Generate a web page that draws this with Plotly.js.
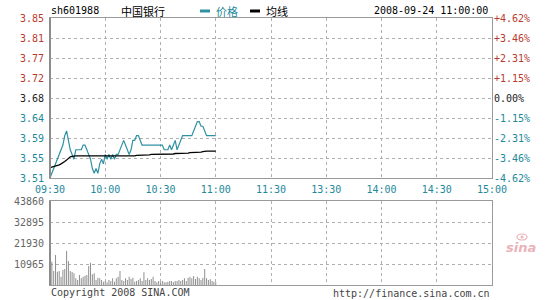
<!DOCTYPE html>
<html>
<head>
<meta charset="utf-8">
<script src="https://cdn.plot.ly/plotly-3.0.1.min.js"></script>
<style>
  html, body { margin: 0; padding: 0; background: #fff; }
  #chart { width: 545px; height: 300px; }
</style>
</head>
<body>
<div id="chart"></div>
<script>
// ---- data ----
const stockCode = 'sh601988';
const stockName = '中国银行';
const stamp = '2008-09-24 11:00:00';
const prevClose = 3.68;
const rangePct = 4.62;

// per-minute price, 09:30 .. 11:00
const price = [
  3.51, 3.52, 3.53, 3.54, 3.55, 3.56, 3.57, 3.58, 3.60, 3.61,
  3.59, 3.57, 3.56, 3.55, 3.57, 3.57, 3.57, 3.57, 3.58, 3.58,
  3.57, 3.56, 3.55, 3.53, 3.52, 3.53, 3.52, 3.54, 3.55, 3.54,
  3.56, 3.55, 3.56, 3.55, 3.56, 3.55, 3.56, 3.56, 3.57, 3.58,
  3.59, 3.58, 3.57, 3.56, 3.57, 3.59, 3.59, 3.60, 3.60, 3.59,
  3.58, 3.58, 3.58, 3.58, 3.58, 3.58, 3.58, 3.58, 3.58, 3.58,
  3.58, 3.58, 3.57, 3.57, 3.57, 3.58, 3.57, 3.58, 3.59, 3.57,
  3.58, 3.59, 3.60, 3.60, 3.60, 3.60, 3.60, 3.60, 3.61, 3.62,
  3.63, 3.63, 3.62, 3.62, 3.61, 3.60, 3.60, 3.60, 3.60, 3.60,
  3.60
];

// per-minute average price
const avgPrice = [
  3.532, 3.533, 3.534, 3.535, 3.536, 3.538, 3.540, 3.542, 3.545, 3.548,
  3.552, 3.555, 3.556, 3.557, 3.557, 3.557, 3.557, 3.557, 3.557, 3.557,
  3.557, 3.557, 3.557, 3.557, 3.556, 3.556, 3.556, 3.556, 3.556, 3.556,
  3.556, 3.556, 3.556, 3.556, 3.556, 3.556, 3.556, 3.556, 3.556, 3.556,
  3.556, 3.556, 3.556, 3.556, 3.556, 3.557, 3.557, 3.558, 3.558, 3.558,
  3.559, 3.559, 3.559, 3.559, 3.559, 3.560, 3.560, 3.560, 3.560, 3.560,
  3.560, 3.561, 3.561, 3.561, 3.561, 3.561, 3.561, 3.561, 3.562, 3.562,
  3.562, 3.562, 3.563, 3.563, 3.563, 3.563, 3.564, 3.564, 3.564, 3.564,
  3.565, 3.565, 3.565, 3.566, 3.567, 3.567, 3.567, 3.567, 3.567, 3.567,
  3.567
];

// per-minute volume, 09:31 .. 11:00
const volume = [
  12160, 7310, 15660, 6940, 7310, 4330, 7830, 8350, 17750, 12530,
  7310, 6790, 6110, 3500, 2610, 5220, 3500, 4330, 4850, 5220,
  9920, 11640, 5590, 6110, 2610, 3810, 3500, 2610, 1720, 2090,
  1410, 2610, 2090, 3500, 1720, 3500, 4330, 7310, 2610, 2090,
  3500, 2610, 4330, 3130, 3810,
  1720, 2090, 2610, 3500, 2090, 6630, 2610, 3500, 2610, 3130,
  4330, 2090, 1410, 2090, 1410, 2090, 1410, 1410, 1720, 2090,
  2090, 1410, 2090, 2090, 2610, 2090, 2610, 3500, 2090, 3810,
  4330, 3500, 4700, 3130, 4330, 3500, 2610, 3810, 8350, 3500,
  2610, 2980, 2090, 1720, 1500
];

const xTickLabels = ['09:30','10:00','10:30','11:00','11:30','13:30','14:00','14:30','15:00'];
const priceTickLabels = ['3.51','3.55','3.59','3.64','3.68','3.72','3.77','3.81','3.85'];
const pctTickLabels = ['-4.62%','-3.46%','-2.31%','-1.15%','0.00%','+1.15%','+2.31%','+3.46%','+4.62%'];
const volTickLabels = ['10965','21930','32895','43860'];
const volMax = 43860;

// ---- helpers ----
function hhmm(m) { // minute offset from 09:30 -> label
  const t = 9 * 60 + 30 + m;
  const h = Math.floor(t / 60), mm = t % 60;
  return String(h).padStart(2, '0') + ':' + String(mm).padStart(2, '0');
}
function tIndex(s) { // trading-minute index, lunch break removed
  const [h, m] = s.split(':').map(Number);
  let t = h * 60 + m - (9 * 60 + 30);
  if (h >= 13) t -= 90;
  return t;
}
const times = price.map((_, i) => hhmm(i));
const volTimes = volume.map((_, i) => hhmm(i + 1));

const RED = '#b83a2e', TEAL = '#23899a', BLACK = '#222', GRAY = '#666';
const FONT = 'DejaVu Sans Mono, Liberation Mono, monospace';
const CJK = 'Noto Sans CJK SC, sans-serif';

const pLow = prevClose * (1 - rangePct / 100);
const pHigh = prevClose * (1 + rangePct / 100);
const yTickVals = priceTickLabels.map((_, i) => pLow + i * (pHigh - pLow) / (priceTickLabels.length - 1));
const colorFor = i => i > 4 ? RED : (i === 4 ? BLACK : TEAL);
const leftText = priceTickLabels.map((t, i) => `<span style="color:${colorFor(i)}">${t}</span>`);
const rightText = pctTickLabels.map((t, i) => `<span style="color:${colorFor(i)}">${t}</span>`);
const volTickVals = volTickLabels.map(Number);

const W = 545, H = 300, L = 50, R = 53;
const px = x => (x - L) / (W - L - R);
const py = y => 1 - y / H;

const traces = [
  { x: times.map(tIndex), y: price, type: 'scatter', mode: 'lines',
    line: { color: '#2f91a2', width: 1.2 }, xaxis: 'x', yaxis: 'y', hoverinfo: 'skip' },
  { x: times.map(tIndex), y: avgPrice, type: 'scatter', mode: 'lines',
    line: { color: '#000', width: 1.3 }, xaxis: 'x', yaxis: 'y', hoverinfo: 'skip' },
  { x: [null], y: [null], type: 'scatter', mode: 'lines', xaxis: 'x', yaxis: 'y3',
    showlegend: false, hoverinfo: 'skip' },
  { x: volTimes.map(tIndex), y: volume, type: 'bar', width: 0.55,
    marker: { color: '#909090', line: { width: 0 } }, xaxis: 'x2', yaxis: 'y2', hoverinfo: 'skip' }
];

const gridCommon = { showgrid: true, gridcolor: '#b0b0b0', griddash: 'dot', gridwidth: 1,
  zeroline: false, showline: true, linecolor: '#9a9a9a', linewidth: 1, mirror: true, ticks: '' };

const layout = {
  width: W, height: H,
  margin: { l: L, r: R, t: 0, b: 0, pad: 0 },
  paper_bgcolor: '#fff', plot_bgcolor: '#fff',
  showlegend: false,
  font: { family: FONT, size: 10, color: '#000' },
  xaxis: Object.assign({}, gridCommon, {
    domain: [0, 1], anchor: 'y', range: [0, 240],
    tickvals: xTickLabels.map(tIndex), ticktext: xTickLabels,
    tickfont: { family: FONT, size: 10, color: TEAL }, ticklen: 0, ticklabelstandoff: 2
  }),
  yaxis: Object.assign({}, gridCommon, {
    domain: [py(178), py(18)], anchor: 'x', range: [pLow, pHigh],
    tickvals: yTickVals, ticktext: leftText,
    tickfont: { family: FONT, size: 10 }, ticklabelstandoff: 3
  }),
  yaxis3: {
    overlaying: 'y', side: 'right', anchor: 'x', range: [pLow, pHigh],
    tickvals: yTickVals, ticktext: rightText, showgrid: false, zeroline: false, showline: false,
    tickfont: { family: FONT, size: 10 }, ticks: '', ticklabelstandoff: 1
  },
  xaxis2: Object.assign({}, gridCommon, {
    domain: [0, 1], anchor: 'y2', range: [0, 240],
    tickvals: xTickLabels.map(tIndex), showticklabels: false
  }),
  yaxis2: Object.assign({}, gridCommon, {
    domain: [py(285), py(201)], anchor: 'x2', range: [0, volMax],
    tickvals: volTickVals, ticktext: volTickLabels,
    tickfont: { family: FONT, size: 10, color: GRAY }, ticklabelstandoff: 3
  }),
  shapes: [
    { type: 'line', xref: 'paper', yref: 'paper', x0: 0, x1: 0, y0: py(178), y1: py(18),
      line: { color: '#8c8c8c', width: 2 } },
    { type: 'line', xref: 'paper', yref: 'paper', x0: 0, x1: 0, y0: py(285), y1: py(201),
      line: { color: '#8c8c8c', width: 2 } },
    { type: 'line', xref: 'paper', yref: 'paper', x0: px(200), x1: px(210), y0: py(11), y1: py(11),
      line: { color: '#2f91a2', width: 3 } },
    { type: 'line', xref: 'paper', yref: 'paper', x0: px(250), x1: px(260), y0: py(11), y1: py(11),
      line: { color: '#000', width: 3 } },
    // sina logo eye
    { type: 'circle', xref: 'paper', yref: 'paper', x0: px(517), x1: px(527), y0: py(240), y1: py(234),
      line: { color: '#eab3b9', width: 1.2 }, fillcolor: 'rgba(0,0,0,0)' },
    { type: 'circle', xref: 'paper', yref: 'paper', x0: px(520.5), x1: px(523.5), y0: py(238.5), y1: py(235.5),
      line: { width: 0 }, fillcolor: '#eab3b9' }
  ],
  annotations: [
    { text: stockCode, xref: 'paper', yref: 'paper', x: px(49), y: py(11), xanchor: 'left', yanchor: 'middle',
      showarrow: false, font: { family: FONT, size: 10, color: '#000' } },
    { text: stockName, xref: 'paper', yref: 'paper', x: px(119), y: py(11), xanchor: 'left', yanchor: 'middle',
      showarrow: false, font: { family: CJK, size: 11, color: '#000' } },
    { text: '价格', xref: 'paper', yref: 'paper', x: px(214), y: py(11), xanchor: 'left', yanchor: 'middle',
      showarrow: false, font: { family: CJK, size: 11, color: TEAL } },
    { text: '均线', xref: 'paper', yref: 'paper', x: px(264), y: py(11), xanchor: 'left', yanchor: 'middle',
      showarrow: false, font: { family: CJK, size: 11, color: '#000' } },
    { text: stamp, xref: 'paper', yref: 'paper', x: px(490), y: py(11), xanchor: 'right', yanchor: 'middle',
      showarrow: false, font: { family: FONT, size: 10, color: '#000' } },
    { text: 'Copyright 2008 SINA.COM', xref: 'paper', yref: 'paper', x: px(49), y: py(292), xanchor: 'left', yanchor: 'middle',
      showarrow: false, font: { family: FONT, size: 10, color: '#444' } },
    { text: 'http://finance.sina.com.cn', xref: 'paper', yref: 'paper', x: px(492), y: py(293), xanchor: 'right', yanchor: 'middle',
      showarrow: false, font: { family: FONT, size: 10, color: '#444' } },
    { text: '<i><b>sina</b></i>', xref: 'paper', yref: 'paper', x: px(521), y: py(247), xanchor: 'center', yanchor: 'middle',
      showarrow: false, font: { family: 'DejaVu Sans, sans-serif', size: 13, color: '#eab3b9' } }
  ]
};

Plotly.newPlot('chart', traces, layout, { staticPlot: true, displayModeBar: false });
</script>
</body>
</html>
